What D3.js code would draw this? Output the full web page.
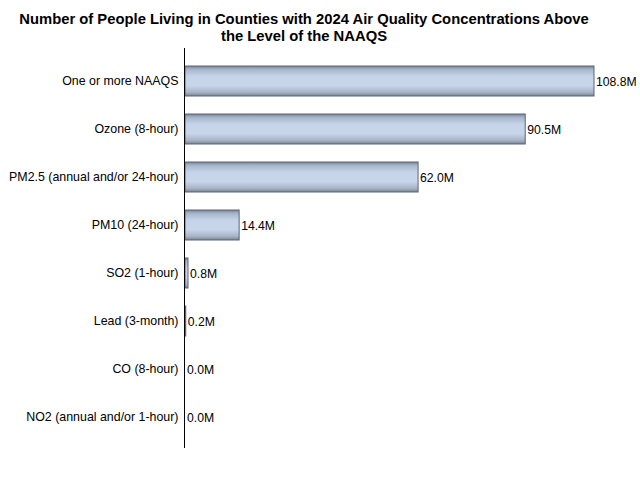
<!DOCTYPE html>
<html><head><meta charset="utf-8">
<script src="https://cdn.jsdelivr.net/npm/d3@7"></script>
<style>body{margin:0;background:#fff}svg{display:block}</style>
</head><body>
<script>
const categories = ["One or more NAAQS","Ozone (8-hour)","PM2.5 (annual and/or 24-hour)","PM10 (24-hour)","SO2 (1-hour)","Lead (3-month)","CO (8-hour)","NO2 (annual and/or 1-hour)"];
const values = [108.8, 90.5, 62.0, 14.4, 0.8, 0.2, 0.0, 0.0];
const valueLabels = ["108.8M","90.5M","62.0M","14.4M","0.8M","0.2M","0.0M","0.0M"];
const titleLines = ["Number of People Living in Counties with 2024 Air Quality Concentrations Above","the Level of the NAAQS"];

const W=640,H=480;
const svg=d3.select("body").append("svg").attr("width",W).attr("height",H);
const defs=svg.append("defs");
const g=defs.append("linearGradient").attr("id","bg").attr("x1",0).attr("y1",0).attr("x2",0).attr("y2",1);
[[0,"#7a8596"],[0.12,"#a8b6ca"],[0.35,"#c6d4e9"],[0.65,"#c8d6eb"],[0.88,"#a6b3c7"],[1,"#78828f"]].forEach(s=>g.append("stop").attr("offset",s[0]).attr("stop-color",s[1]));

const x=d3.scaleLinear().domain([0,108.8]).range([185,594]);
const y=d3.scaleBand().domain(categories).range([57,441]).paddingInner(0.375).paddingOuter(0.1875);

svg.selectAll("text.title").data(titleLines).enter().append("text")
 .attr("x",304).attr("y",(d,i)=>24+i*17).attr("text-anchor","middle")
 .attr("font-family","Liberation Sans, Arial, sans-serif").attr("font-weight","bold").attr("font-size",14.8).attr("fill","#000").text(d=>d);

svg.selectAll("rect.bar").data(values).enter().append("rect")
 .attr("x",x(0)).attr("y",(d,i)=>y(categories[i]))
 .attr("width",d=>Math.max(0,x(d)-x(0))).attr("height",y.bandwidth())
 .attr("fill","url(#bg)").attr("stroke",d=>d>0?"#5d6572":"none").attr("stroke-width",1);

svg.selectAll("text.val").data(values).enter().append("text")
 .attr("x",d=>x(d)+2).attr("y",(d,i)=>y(categories[i])+y.bandwidth()/2+4.5)
 .attr("font-family","Liberation Sans, Arial, sans-serif").attr("font-size",12.2).attr("fill","#000")
 .text((d,i)=>valueLabels[i]);

const ax=d3.axisLeft(y).tickSize(0).tickPadding(6);
const axg=svg.append("g").attr("transform","translate(184.5,0)").call(ax);
axg.select(".domain").attr("d","M0,48V448").attr("stroke","#000");
axg.selectAll("text").attr("font-family","Liberation Sans, Arial, sans-serif").attr("font-size",12.4).attr("fill","#000");
</script>
</body></html>
